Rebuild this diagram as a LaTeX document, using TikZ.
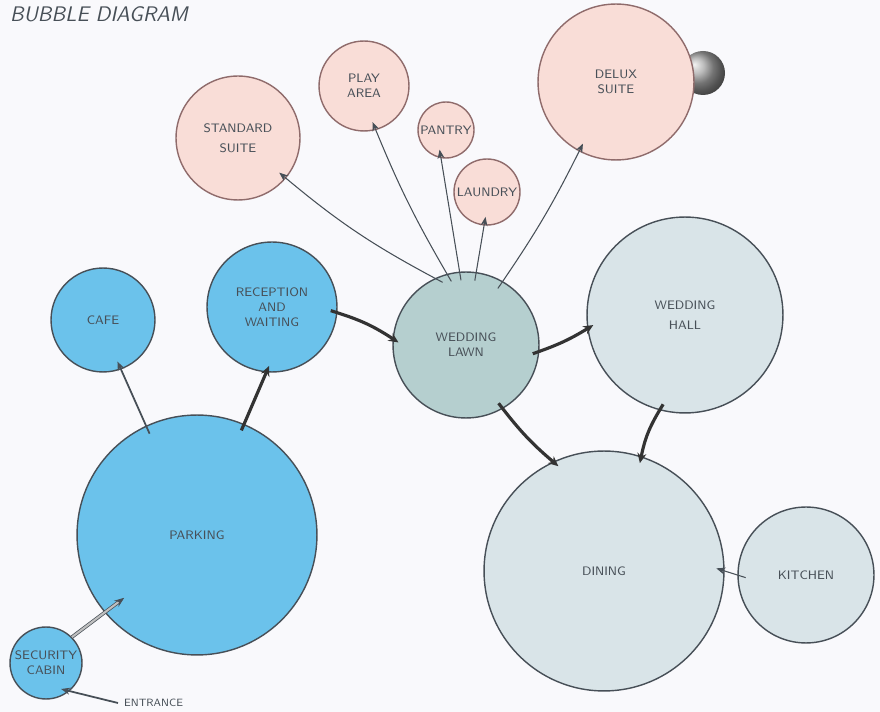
\documentclass[tikz,border=0pt]{standalone}
\usetikzlibrary{arrows.meta, positioning, calc}
\definecolor{PaleRose}{rgb}{0.975, 0.865, 0.845}
\definecolor{RoseEdge}{rgb}{0.56, 0.42, 0.42}
\definecolor{SkyBlue}{rgb}{0.42, 0.76, 0.92}
\definecolor{LawnGrey}{rgb}{0.71, 0.81, 0.81}
\definecolor{MistGrey}{rgb}{0.85, 0.895, 0.91}
\definecolor{InkGrey}{rgb}{0.28, 0.31, 0.34}
\definecolor{PaperTint}{rgb}{0.975, 0.978, 0.99}

\begin{document}
\begin{tikzpicture}[
    x=0.02cm, y=-0.02cm,
    font=\sffamily,
    bubble/.style={circle, draw=InkGrey, line width=0.8pt, align=center, inner sep=0pt,
        minimum size=#1*0.04cm, text=InkGrey, font=\sffamily\fontsize{7}{8.5}\selectfont},
    suite/.style={bubble=#1, fill=PaleRose, draw=RoseEdge},
    guest/.style={bubble=#1, fill=SkyBlue},
    lawnbox/.style={bubble=#1, fill=LawnGrey},
    hallbox/.style={bubble=#1, fill=MistGrey},
    link/.style={-{Stealth[length=1.8mm, width=1.4mm]}, line width=0.6pt, InkGrey,
        shorten <=-5pt, shorten >=-5pt},
    heavy/.style={-{Stealth[length=2mm, width=1.8mm]}, line width=1.8pt, black!80,
        shorten <=-4pt, shorten >=-4pt},
]
\useasboundingbox (0,0) rectangle (880,712);
\fill[PaperTint] (0,0) rectangle (880,712);

% --- titulo ---
\node[font=\sffamily\itshape\large, text=InkGrey, anchor=west] (title) at (4,14) {BUBBLE DIAGRAM};

% --- habitaciones (rosa) ---
\shade[ball color=gray!70] (703,73) circle (22);
\node[suite=62] (std) at (238,138) {STANDARD\\[3pt] SUITE};
\node[suite=45] (play) at (364,86) {PLAY\\ AREA};
\node[suite=28] (pantry) at (446,130) {PANTRY};
\node[suite=33] (laundry) at (487,192) {LAUNDRY};
\node[suite=78] (delux) at (616,82) {DELUX\\ SUITE};

% --- zona de acceso (azul) ---
\node[guest=52] (cafe) at (103,320) {CAFE};
\node[guest=65] (recep) at (272,307) {RECEPTION\\ AND\\ WAITING};
\node[guest=120] (parking) at (197,535) {PARKING};
\node[guest=36] (security) at (46,663) {SECURITY\\ CABIN};
\node[font=\sffamily\fontsize{6}{7}\selectfont, text=InkGrey, anchor=west] (entrance) at (118,703) {ENTRANCE};

% --- zona de eventos (gris) ---
\node[lawnbox=73] (lawn) at (466,345) {WEDDING\\ LAWN};
\node[hallbox=98] (hall) at (685,315) {WEDDING\\[3pt] HALL};
\node[hallbox=120] (dining) at (604,571) {DINING};
\node[hallbox=68] (kitchen) at (806,575) {KITCHEN};

% conexiones desde el jardin
\draw[link] (lawn.115) to[bend left=6] (std.-40);
\draw[link] (lawn.105) to[bend left=4] (play.-75);
\draw[link] (lawn.95) -- (pantry.-100);
\draw[link] (lawn.82) -- (laundry.-95);
\draw[link] (lawn.60) to[bend right=4] (delux.-118);

\draw[heavy] (recep.-5) to[bend left=8] (lawn.175);
\draw[heavy] (lawn.-5) to[bend right=6] (hall.188);
\draw[heavy] (lawn.-60) to[bend right=6] (dining.115);
\draw[heavy] (hall.-105) to[bend right=10] (dining.72);
\draw[heavy] (parking.67) -- (recep.-95);
\draw[link, line width=1pt] (parking.115) -- (cafe.-70);
\draw[link] (kitchen.180) -- (dining.0);

% entrada
\draw[-{Stealth[length=2mm]}, double=gray!50, double distance=1.2pt, InkGrey,
    shorten >=-14pt] (security.45) -- (parking.-140);
\draw[link, line width=1pt, shorten <=0pt] (entrance.west) -- (security.-50);

\end{tikzpicture}
\end{document}
